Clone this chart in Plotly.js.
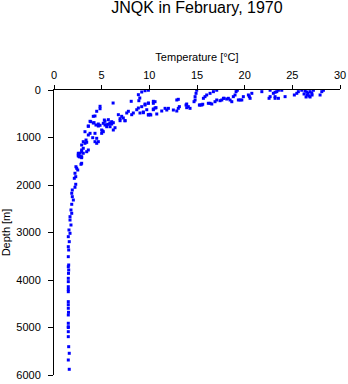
<!DOCTYPE html>
<html>
<head>
<meta charset="utf-8">
<script src="https://cdn.plot.ly/plotly-3.0.1.min.js"></script>
<style>html,body{margin:0;padding:0;background:#fff;}#chart{width:348px;height:384px;}</style>
</head>
<body>
<div id="chart"></div>
<script>
// Temperature [°C] values
const temperature = [
  9.9, 9.55, 9.2, 8.85, 9.0, 8.9, 8.1, 6.2, 4.83, 4.83, 4.48, 4.12, 3.78, 4.12, 4.65, 4.83, 3.6,
  5.7, 5.35, 5.88, 6.05, 5.53, 6.75, 7.1, 7.27, 6.93, 7.45, 7.63, 7.8, 8.15, 8.32, 8.68, 8.85,
  9.02, 9.37, 9.73, 9.9, 9.55, 9.9, 10.42, 10.6, 10.42, 10.78,
  3.6, 3.85, 4.2, 4.4, 4.65, 5.17, 5.35, 5.53, 5.0, 5.17, 5.88, 6.05, 6.22, 6.93, 7.45,
  3.25, 3.6, 3.78, 4.3, 4.48, 4.3, 4.48, 3.07, 3.25, 2.9, 3.36, 2.73, 2.55, 3.07, 2.9, 3.43,
  2.73, 2.55, 2.9, 2.3, 4.06, 4.65, 3.43, 3.07, 2.9, 3.6, 2.65, 2.9, 5.1, 5.0, 6.22, 6.4,
  5.7, 5.88, 4.3, 5.28, 2.73, 2.9, 2.55, 2.83,
  2.38, 2.49, 2.2, 2.28, 2.13, 2.28, 2.2, 1.92, 1.86, 1.92, 2.03, 1.86, 1.78, 1.86, 1.68,
  1.68, 1.78, 1.57, 1.68, 1.5, 1.6, 1.5, 1.54, 1.5, 1.54, 1.54, 1.5, 1.5, 1.5, 1.5, 1.5,
  1.5, 1.5, 1.5, 1.5, 1.5, 1.5, 1.54, 1.6, 1.5, 1.6, 1.5, 1.52, 1.5, 1.5, 1.52, 1.5,
  10.6, 10.42, 10.7, 10.42, 10.15, 11.3, 11.65, 12.0, 11.83, 12.52, 12.88, 12.88, 13.04,
  13.15, 13.04, 13.85, 14.09, 14.27, 13.92, 14.97, 14.9, 14.8, 14.8, 14.69, 15.25, 15.5,
  15.6, 15.67, 15.84, 16.02, 16.37, 16.72, 17.07, 16.19, 16.37, 16.89, 17.07, 17.6, 17.84,
  18.12, 18.47, 18.65, 18.99, 19.1, 19.23, 19.34, 19.7, 20.39, 20.49, 20.57, 20.75, 21.8,
  22.67, 22.67, 22.56, 23.01, 23.19, 23.37, 23.54, 23.19, 23.54, 23.89, 24.24, 25.21,
  25.47, 25.63, 25.99, 26.34, 26.52, 26.65, 26.86, 27.04, 26.55, 26.76, 27.07, 27.21,
  26.44, 26.23, 26.86, 27.91, 28.09, 28.26,
  13.92, 15.32, 16.55, 17.42, 17.77, 18.29, 18.81, 19.52, 19.86, 23.19,
  9.2, 9.55, 9.9, 9.9, 10.07, 9.37
];
// Depth [m] values
const depth = [
  5, 15, 42, 99, 168, 225, 238, 274, 343, 394, 448, 554, 659, 695, 716, 743, 764,
  625, 659, 695, 716, 730, 520, 554, 589, 604, 646, 484, 448, 520, 484, 415, 379,
  484, 463, 415, 520, 295, 274, 238, 379, 415, 505,
  758, 667, 688, 737, 758, 701, 737, 773, 842, 878, 701, 667, 688, 646, 646,
  878, 947, 912, 912, 1017, 1088, 1122, 1088, 1122, 1158, 1053, 1332, 1368, 1332, 1299, 1299,
  1404, 1332, 1543, 1615, 1004, 1088, 1101, 1227, 1263, 1263, 1404, 1404, 863, 912, 842, 794,
  722, 773, 547, 632, 1404, 1425, 1389, 1564,
  1648, 1684, 1753, 1825, 1859, 1985, 2048, 2105, 2174, 2246, 2316, 2406, 2526, 2596, 2667,
  2737, 2842, 2947, 3017, 3088, 3193, 3299, 3368, 3509, 3684, 3789, 3964, 4035, 4141, 4246, 4456,
  4595, 4736, 4911, 4983, 5088, 5193, 5404, 5543, 5684, 5880, 3720, 3860, 4200, 4520, 4680, 5000,
  246, 280, 372, 400, 526, 442, 386, 386, 421, 421, 442, 210, 196,
  350, 386, 316, 350, 386, 372, 5, 70, 140, 210, 246, 316, 316,
  300, 175, 140, 105, 70, 35, 5, 280, 280, 246, 210, 210, 175,
  190, 210, 246, 105, 35, 5, 210, 210, 105, 140, 175, 70, 35,
  5, 140, 175, 70, 48, 35, 5, 175, 175, 5, 140, 105,
  70, 35, 5, 21, 42, 70, 35, 63, 105, 126, 105, 5,
  147, 84, 147, 105, 35, 5,
  295, 316, 295, 225, 175, 175, 140, 210, 140, 140,
  351, 316, 280, 526, 512, 478
];
const xTicks = [0, 5, 10, 15, 20, 25, 30];
const yTicks = [0, 1000, 2000, 3000, 4000, 5000, 6000];

const fontFam = 'Liberation Sans, Arial, Helvetica, sans-serif';

Plotly.newPlot('chart', [{
  type: 'scatter',
  mode: 'markers',
  x: temperature,
  y: depth,
  marker: {symbol: 'square', size: 3, color: '#0000ff', line: {width: 0}},
  hoverinfo: 'none'
}], {
  width: 348, height: 384,
  margin: {l: 54, r: 8, t: 90, b: 9, pad: 0},
  paper_bgcolor: '#ffffff', plot_bgcolor: '#ffffff',
  showlegend: false,
  font: {family: fontFam, size: 11, color: '#000'},
  title: {text: 'JNQK in February, 1970', font: {family: fontFam, size: 16, color: '#000'},
          x: 0.566, xanchor: 'center', y: 0.995, yanchor: 'top'},
  xaxis: {
    side: 'top', range: [0, 30], tickvals: xTicks, ticktext: xTicks.map(String),
    ticks: 'outside', ticklen: 4, tickcolor: '#000', tickwidth: 1,
    showline: true, linecolor: '#000', linewidth: 1, mirror: false,
    showgrid: false, zeroline: false, ticklabelstandoff: 2,
    tickfont: {family: fontFam, size: 11},
    title: {text: 'Temperature [°C]', font: {family: fontFam, size: 11}, standoff: 4}
  },
  yaxis: {
    range: [6000, 0], tickvals: yTicks, ticktext: yTicks.map(String),
    ticks: 'outside', ticklen: 5, tickcolor: '#000', tickwidth: 1,
    showline: true, linecolor: '#000', linewidth: 1, mirror: false,
    showgrid: false, zeroline: false, ticklabelstandoff: 5,
    tickfont: {family: fontFam, size: 11},
    title: {text: 'Depth [m]', font: {family: fontFam, size: 11}, standoff: 4}
  }
}, {displayModeBar: false, staticPlot: true});
</script>
</body>
</html>
